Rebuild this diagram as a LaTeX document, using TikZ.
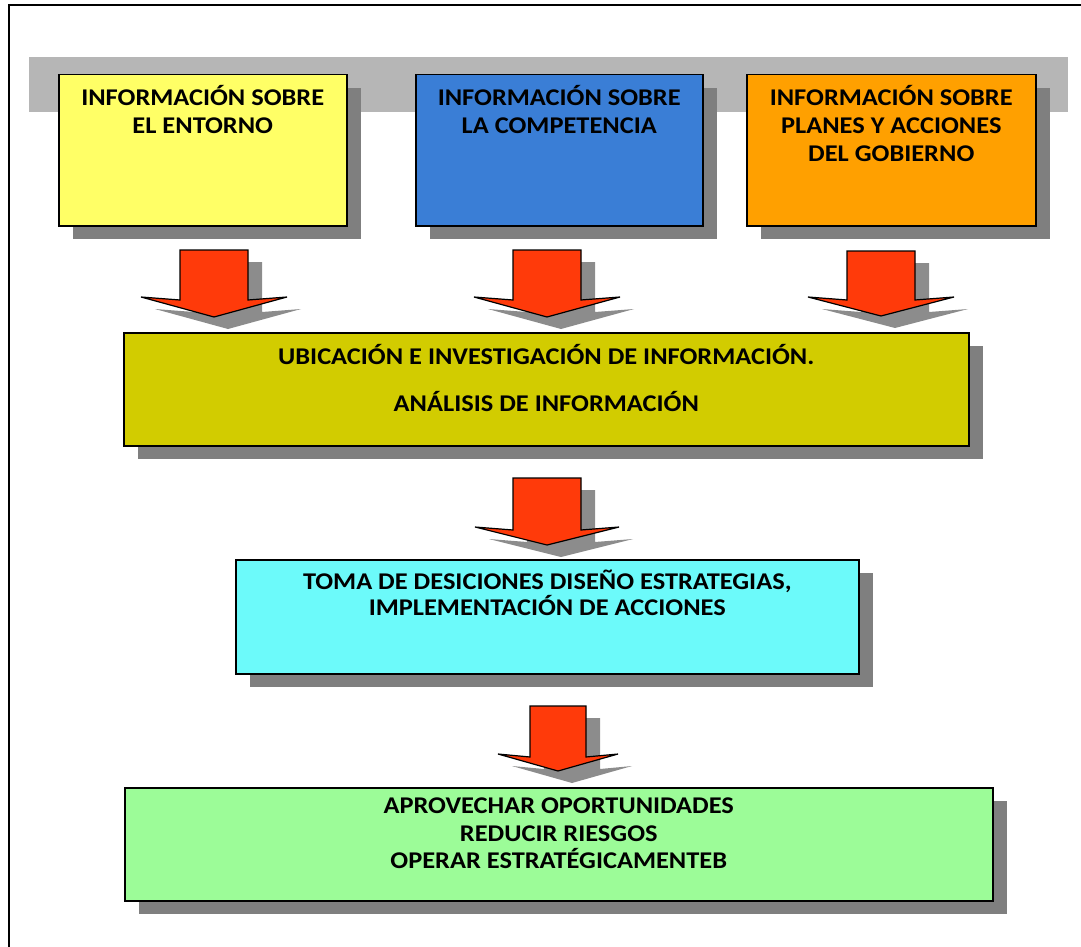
\documentclass[tikz,border=0pt]{standalone}
\usepackage{fontspec}
\setmainfont{Carlito}[FakeStretch=1.1]
\usetikzlibrary{shadows}
\definecolor{cyellow}{HTML}{FFFF66}
\definecolor{cblue}{HTML}{3A7ED6}
\definecolor{corange}{HTML}{FFA000}
\definecolor{colive}{HTML}{D2CC00}
\definecolor{ccyan}{HTML}{6CFAFA}
\definecolor{cgreen}{HTML}{9CFC98}
\definecolor{shadowgray}{HTML}{7F7F7F}
\definecolor{bargray}{HTML}{B6B6B6}
\definecolor{arrowred}{HTML}{FF3A0A}
\definecolor{arrowgray}{HTML}{8C8C8C}
\newcommand\blockarrow[6]{% cx, ytop, shaft half, wing half, y shaft bottom, y tip
  \fill[arrowgray, shift={(14,12)}] ({#1-#3},#2) -- ({#1+#3},#2) -- ({#1+#3},#5) -- ({#1+#4},{#5-3}) -- (#1,#6) -- ({#1-#4},{#5-3}) -- ({#1-#3},#5) -- cycle;
  \filldraw[fill=arrowred, draw=black, line width=1.2pt, line join=miter] ({#1-#3},#2) -- ({#1+#3},#2) -- ({#1+#3},#5) -- ({#1+#4},{#5-3}) -- (#1,#6) -- ({#1-#4},{#5-3}) -- ({#1-#3},#5) -- cycle;
}
\begin{document}
\begin{tikzpicture}[x=1pt, y=-1pt,
  box/.style={draw=black, line width=1.5pt, anchor=north west, inner sep=0pt,
    drop shadow={shadow xshift=14pt, shadow yshift=-13pt, fill=shadowgray, opacity=1}},
  txt/.style={anchor=north, align=center, inner sep=0pt, font=\fontsize{24}{28}\selectfont\bfseries, text=black}]
\useasboundingbox (0,0) rectangle (1081,947);
% frame lines
\draw[line width=2pt] (1081,5) -- (9,5) -- (9,947);
% gray band
\fill[bargray] (29,57) rectangle (1068,112);
% top boxes
\node[box, fill=cyellow, minimum width=288pt, minimum height=151pt] (entorno) at (58,74) {};
\node[box, fill=cblue, minimum width=287pt, minimum height=151pt] (compet) at (415,74) {};
\node[box, fill=corange, minimum width=289pt, minimum height=151pt] (gobierno) at (746,74) {};
\node[txt] (tentorno) at ([yshift=-11pt]entorno.north) {INFORMACIÓN SOBRE\\EL ENTORNO};
\node[txt] (tcompet) at ([yshift=-11pt]compet.north) {INFORMACIÓN SOBRE\\LA COMPETENCIA};
\node[txt] (tgobierno) at ([yshift=-11pt]gobierno.north) {INFORMACIÓN SOBRE\\PLANES Y ACCIONES\\DEL GOBIERNO};
% arrows row 1
\blockarrow{214}{250}{34}{73}{300}{317}
\blockarrow{547}{250}{34}{73}{300}{317}
\blockarrow{881}{251}{34}{73}{300}{316}
% olive box
\node[box, fill=colive, minimum width=845pt, minimum height=113pt] (analisis) at (123,332) {};
\node[txt, font=\fontsize{24}{23.5}\selectfont\bfseries] (tanalisis) at ([yshift=-12pt]analisis.north) {UBICACIÓN E INVESTIGACIÓN DE INFORMACIÓN.\\[23.5pt]ANÁLISIS DE INFORMACIÓN};
% arrow 4
\blockarrow{547}{478}{34}{72}{530}{545}
% cyan box
\node[box, fill=ccyan, minimum width=623pt, minimum height=114pt] (decision) at (235,559) {};
\node[txt, font=\fontsize{24}{26}\selectfont\bfseries] (tdecision) at ([yshift=-11pt]decision.north) {TOMA DE DESICIONES DISEÑO ESTRATEGIAS,\\IMPLEMENTACIÓN DE ACCIONES};
% arrow 5
\blockarrow{558}{706}{28}{60}{757}{771}
% green box
\node[box, fill=cgreen, minimum width=868pt, minimum height=113pt] (result) at (124,787) {};
\node[txt, font=\fontsize{24}{27.5}\selectfont\bfseries] (tresult) at ([yshift=-11pt]result.north) {APROVECHAR OPORTUNIDADES\\REDUCIR RIESGOS\\OPERAR ESTRATÉGICAMENTEB};
\end{tikzpicture}
\end{document}
